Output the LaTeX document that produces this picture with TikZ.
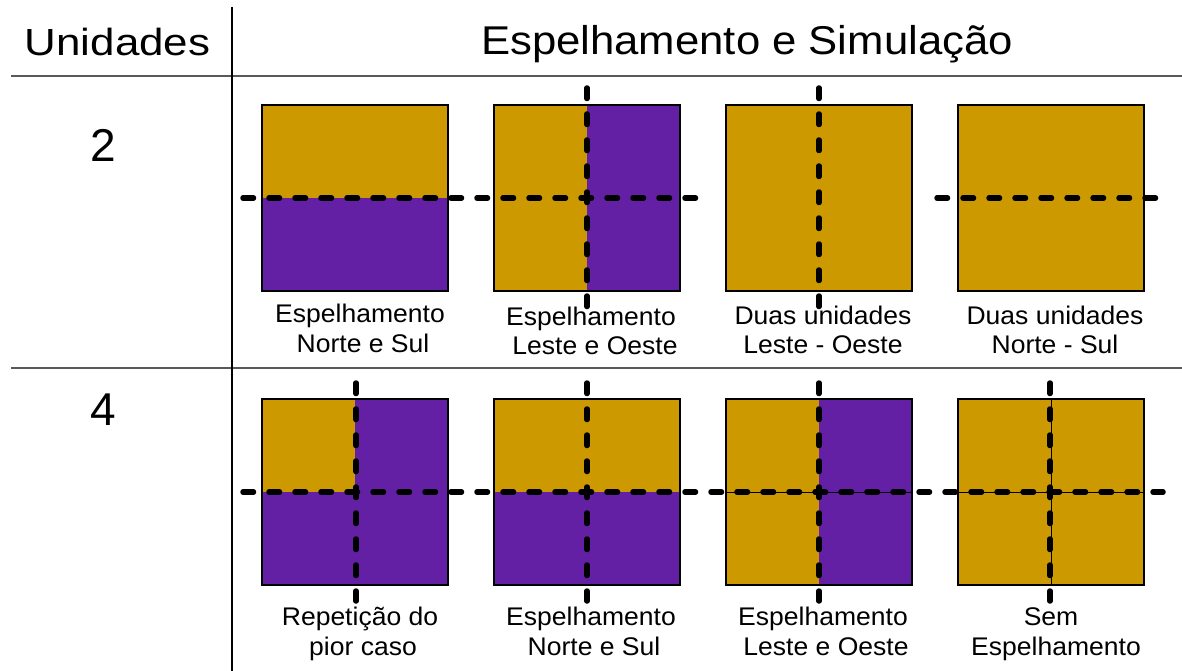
\documentclass[tikz,border=0pt]{standalone}
\usepackage{fontspec}
\setmainfont{Liberation Sans}
\definecolor{gold}{HTML}{CC9900}
\definecolor{violet}{HTML}{6420A4}
\begin{document}
\begin{tikzpicture}[x=1pt,y=-1pt,
  sq/.style={draw=black,line width=1.3pt},
  cut/.style={draw=black,line width=5.5pt,line cap=round,dash pattern=on 10.5pt off 15.5pt},
  thin/.style={draw=black,line width=1pt},
  rule/.style={draw=black!65,line width=1.8pt},
  vrule/.style={draw=black,line width=1.6pt},
  lab/.style={anchor=base,inner sep=0pt,font=\fontsize{25.5}{30}\selectfont},
  head/.style={anchor=base,inner sep=0pt},
  num/.style={anchor=base,inner sep=0pt,font=\fontsize{46}{50}\selectfont}]
\useasboundingbox (0,0) rectangle (1182,671);
% table rules
\coordinate (vt) at (232,7);
\coordinate (vb) at (232,671);
\coordinate (h1l) at (11,76);
\coordinate (h1r) at (1182,76);
\coordinate (h2l) at (11,368);
\coordinate (h2r) at (1182,368);
\draw[rule] (h1l) -- (h1r);
\draw[rule] (h2l) -- (h2r);
\draw[vrule] (vt) -- (vb);
% headers
\node[head] (hu) at (117.5,56) {\fontsize{36}{40}\selectfont\scalebox{1.22}[1.05]{Unidades}};
\node[head] (hes) at (747,55) {\fontsize{39}{44}\selectfont\scalebox{1.12}[1.03]{Espelhamento e Simulação}};
\node[num] (n2) at (103,162) {2};
\node[num] (n4) at (103.5,425) {4};
% ---------- row 1 ----------
% square 1: north/south
\fill[gold] (262,105) rectangle (448,198);
\fill[violet] (262,198) rectangle (448,291);
\draw[sq] (262,105) rectangle (448,291);
% square 2: east/west
\fill[gold] (494,105) rectangle (587,291);
\fill[violet] (587,105) rectangle (680,291);
\draw[sq] (494,105) rectangle (680,291);
% square 3
\fill[gold] (726,105) rectangle (912,291);
\draw[sq] (726,105) rectangle (912,291);
% square 4
\fill[gold] (958,105) rectangle (1144,291);
\draw[sq] (958,105) rectangle (1144,291);
% cut lines row 1
\coordinate (r1a) at (243,198);
\coordinate (r1b) at (700,198);
\draw[cut] (r1a) -- (r1b);
\coordinate (c2t) at (587,88);
\coordinate (c2b) at (587,307);
\draw[cut] (c2t) -- (c2b);
\coordinate (c3t) at (819,88);
\coordinate (c3b) at (819,308);
\draw[cut] (c3t) -- (c3b);
\coordinate (r1c) at (937,198);
\coordinate (r1d) at (1163,198);
\draw[cut] (r1c) -- (r1d);
% labels row 1
\node[lab] (l11a) at (360,322) {\scalebox{1.04}[1]{Espelhamento}};
\node[lab] (l11b) at (363,352) {\scalebox{1.04}[1]{Norte e Sul}};
\node[lab] (l12a) at (591,325) {\scalebox{1.04}[1]{Espelhamento}};
\node[lab] (l12b) at (595,354) {\scalebox{1.04}[1]{Leste e Oeste}};
\node[lab] (l13a) at (823,324) {\scalebox{1.04}[1]{Duas unidades}};
\node[lab] (l13b) at (823,353) {\scalebox{1.04}[1]{Leste - Oeste}};
\node[lab] (l14a) at (1055,324) {\scalebox{1.04}[1]{Duas unidades}};
\node[lab] (l14b) at (1055,353) {\scalebox{1.04}[1]{Norte - Sul}};
% ---------- row 2 ----------
% square 1: worst case repetition
\fill[violet] (262,399) rectangle (448,585);
\fill[gold] (262,399) rectangle (355,492);
\draw[sq] (262,399) rectangle (448,585);
% square 2: north/south
\fill[gold] (494,399) rectangle (680,492);
\fill[violet] (494,492) rectangle (680,585);
\draw[sq] (494,399) rectangle (680,585);
% square 3: east/west
\fill[gold] (726,399) rectangle (819,585);
\fill[violet] (819,399) rectangle (912,585);
\draw[thin] (726,492) -- (912,492);
\draw[sq] (726,399) rectangle (912,585);
% square 4: no mirroring
\fill[gold] (958,399) rectangle (1144,585);
\draw[thin] (958,492) -- (1144,492);
\draw[thin] (1051,399) -- (1051,585);
\draw[sq] (958,399) rectangle (1144,585);
% cut lines row 2
\coordinate (r2a) at (243,492);
\coordinate (r2b) at (1163,492);
\draw[cut] (r2a) -- (r2b);
\coordinate (d1t) at (356,383);
\coordinate (d1b) at (356,601);
\draw[cut] (d1t) -- (d1b);
\coordinate (d2t) at (587,383);
\coordinate (d2b) at (587,601);
\draw[cut] (d2t) -- (d2b);
\coordinate (d3t) at (819,383);
\coordinate (d3b) at (819,601);
\draw[cut] (d3t) -- (d3b);
\coordinate (d4t) at (1050,383);
\coordinate (d4b) at (1050,601);
\draw[cut] (d4t) -- (d4b);
% labels row 2
\node[lab] (l21a) at (360,625) {\scalebox{1.04}[1]{Repetição do}};
\node[lab] (l21b) at (363,655) {\scalebox{1.04}[1]{pior caso}};
\node[lab] (l22a) at (591,625) {\scalebox{1.04}[1]{Espelhamento}};
\node[lab] (l22b) at (594,655) {\scalebox{1.04}[1]{Norte e Sul}};
\node[lab] (l23a) at (823,625) {\scalebox{1.04}[1]{Espelhamento}};
\node[lab] (l23b) at (826,655) {\scalebox{1.04}[1]{Leste e Oeste}};
\node[lab] (l24a) at (1051,625) {\scalebox{1.04}[1]{Sem}};
\node[lab] (l24b) at (1056,655) {\scalebox{1.04}[1]{Espelhamento}};
\end{tikzpicture}
\end{document}
